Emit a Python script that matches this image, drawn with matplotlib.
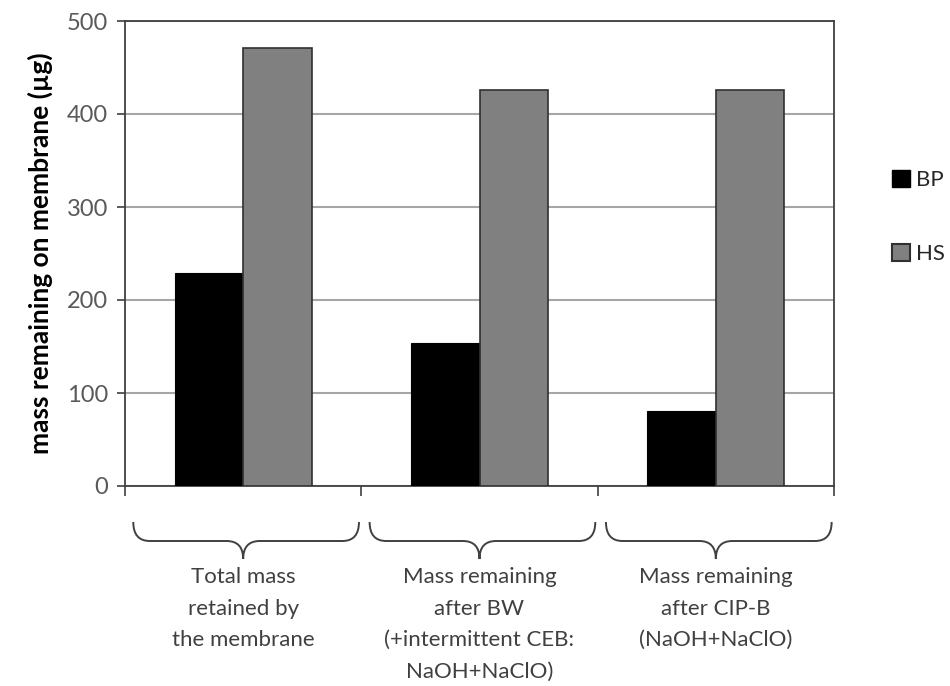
import numpy as np
import matplotlib.pyplot as plt
from matplotlib.path import Path
from matplotlib.patches import PathPatch, Patch
from matplotlib.transforms import blended_transform_factory

plt.rcParams['font.family'] = ['Lato', 'DejaVu Sans']

# data
categories = ["Total mass\nretained by\nthe membrane",
              "Mass remaining\nafter BW\n(+intermittent CEB:\nNaOH+NaClO)",
              "Mass remaining\nafter CIP-B\n(NaOH+NaClO)"]
bp_values = [229, 154, 81]
hs_values = [471, 426, 426]
yticks = [0, 100, 200, 300, 400, 500]

W, H = 950, 686
fig = plt.figure(figsize=(W / 100, H / 100), dpi=100)
ax = fig.add_axes([125 / W, 1 - 486 / H, (834 - 125) / W, (486 - 21) / H])

x = np.arange(len(categories))
width = 0.29
ax.bar(x - width / 2, bp_values, width, color="black", edgecolor="black",
       linewidth=0.8, zorder=3, label="BP")
ax.bar(x + width / 2, hs_values, width, color="#808080", edgecolor="#303030",
       linewidth=1.2, zorder=3, label="HS")

ax.set_xlim(-0.5, len(categories) - 0.5)
ax.set_ylim(0, 500)
ax.set_yticks(yticks)
ax.set_yticklabels([str(v) for v in yticks], fontsize=17, color="#595959")
ax.yaxis.grid(True, color="#a6a6a6", linewidth=1.5, zorder=0)
ax.set_axisbelow(True)

ax.set_xticks(np.arange(len(categories) + 1) - 0.5)
ax.set_xticklabels([])
ax.tick_params(axis="x", direction="out", length=7, width=1.2, color="#404040")
ax.tick_params(axis="y", direction="out", length=6, width=1.2, color="#404040", pad=6)
for s in ax.spines.values():
    s.set_color("#404040")
    s.set_linewidth(1.3)

ax.set_ylabel("mass remaining on membrane (\u00b5g)", fontsize=19,
              fontweight="bold", labelpad=10)

# braces under each group
trans = blended_transform_factory(ax.transData, fig.transFigure)
yt, ym, yp = 1 - 522 / H, 1 - 541 / H, 1 - 559 / H
d = 0.07
for i in range(len(categories)):
    xl, xr, xc = i - 0.5 + 0.035, i + 0.5 - 0.01, i
    verts = [(xl, yt), (xl, ym), (xl + d, ym), (xc - d, ym), (xc, ym), (xc, yp),
             (xc, ym), (xc + d, ym), (xr - d, ym), (xr, ym), (xr, yt)]
    codes = [Path.MOVETO, Path.CURVE3, Path.CURVE3, Path.LINETO, Path.CURVE3,
             Path.CURVE3, Path.CURVE3, Path.CURVE3, Path.LINETO, Path.CURVE3,
             Path.CURVE3]
    fig.patches.append(PathPatch(Path(verts, codes), transform=trans,
                                 facecolor="none", edgecolor="#404040",
                                 linewidth=1.4))
    ax.text(xc, 1 - 567 / H, categories[i], transform=trans, ha="center",
            va="top", fontsize=16, color="#404040", linespacing=1.72)

handles = [Patch(facecolor="black", edgecolor="black", label="BP"),
           Patch(facecolor="#808080", edgecolor="#303030", linewidth=1.5, label="HS")]
fig.legend(handles=handles, loc="center left",
           bbox_to_anchor=(892 / W, 1 - 217 / H), frameon=False, fontsize=16,
           handlelength=0.8, handleheight=0.8, handletextpad=0.3,
           labelspacing=2.4, borderpad=0, borderaxespad=0,
           labelcolor="#262626")

fig.savefig("out.png", dpi=100)
